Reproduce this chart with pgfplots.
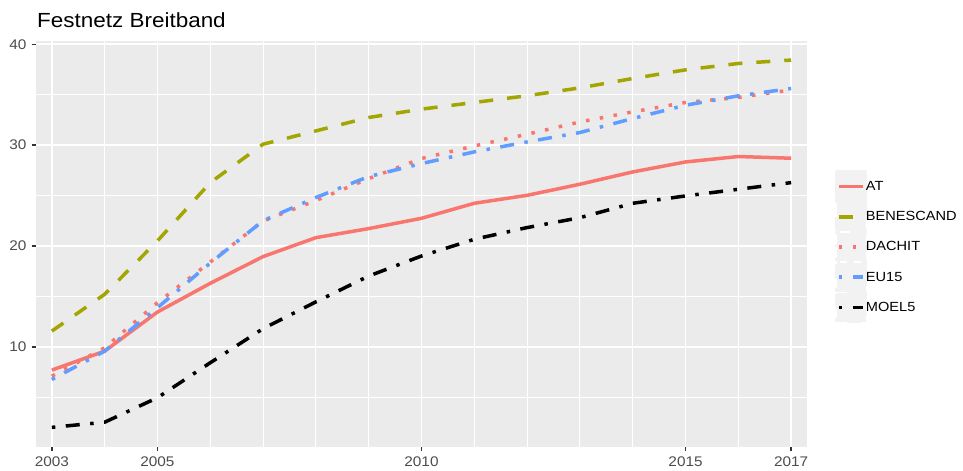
\documentclass[border=0pt]{standalone}
\usepackage{fontspec}
\setmainfont{Liberation Sans}[FakeStretch=1.1]
\usepackage{pgfplots}
\usepackage{pgfplotstable}
\pgfplotsset{compat=1.18}
\definecolor{panel}{HTML}{EBEBEB}
\definecolor{keybg}{HTML}{F2F2F2}
\definecolor{tickc}{HTML}{333333}
\definecolor{labc}{HTML}{4D4D4D}
\definecolor{cAT}{HTML}{F8766D}
\definecolor{cBE}{HTML}{A3A500}
\definecolor{cEU}{HTML}{619CFF}
\pgfplotstableread{
Year AT BENESCAND DACHIT EU15 MOEL5
2003 7.68 11.55 7.08 6.75 2.00
2004 9.56 15.20 9.90 9.56 2.51
2005 13.44 20.50 14.37 13.87 4.94
2006 16.29 26.28 18.40 18.30 8.41
2007 18.94 30.09 22.47 22.50 11.79
2008 20.82 31.41 24.50 24.80 14.45
2009 21.72 32.74 26.68 26.88 17.01
2010 22.74 33.57 28.67 28.17 19.00
2011 24.23 34.23 29.92 29.33 20.66
2012 25.02 34.90 31.08 30.32 21.82
2013 26.12 35.68 32.30 31.25 22.80
2014 27.34 36.61 33.30 32.64 24.23
2015 28.33 37.47 34.23 33.96 24.96
2016 28.87 38.10 34.73 34.89 25.62
2017 28.70 38.44 35.48 35.62 26.28
}\datatable
\begin{document}
\begin{tikzpicture}
\useasboundingbox (-36bp,-24.3bp) rectangle (927bp,446.7bp);
\begin{axis}[
  scale only axis,
  width=771bp, height=406bp,
  xmin=2002.7, xmax=2017.3,
  ymin=0.08, ymax=40.36,
  axis background/.style={fill=panel},
  axis x line*=bottom, axis y line*=left,
  axis line style={draw=none},
  xtick={2003,2005,2010,2015,2017},
  xticklabels={2003,2005,2010,2015,2017},
  minor xtick={2004,2006,2007,2008,2009,2011,2012,2013,2014,2016},
  ytick={10,20,30,40},
  yticklabels={10,20,30,40},
  minor ytick={5,15,25,35},
  grid=both,
  major grid style={white, line width=1.7bp},
  minor grid style={white, line width=0.9bp},
  tick align=outside,
  major tick length=4.4bp,
  minor tick length=0pt,
  tick style={color=tickc, line width=1.6bp},
  xticklabel style={font=\fontsize{14}{16}\selectfont, text=labc, inner sep=0pt, anchor=north, yshift=-5.9bp},
  yticklabel style={font=\fontsize{14}{16}\selectfont, text=labc, inner sep=0pt, anchor=east, xshift=-4.9bp},
  legend cell align=left,
  legend style={at={(1.0365,0.6803)}, anchor=north west, draw=none, fill=none,
    inner sep=0pt, outer sep=0pt, row sep=-2bp, column sep=-1.4bp,
    font=\fontsize{13.3}{16}\selectfont, nodes={inner sep=0pt}},
  legend image code/.code={
    \fill[keybg] (0bp,-14.35bp) rectangle (28.7bp,14.35bp);
    \draw[#1] (2bp,0bp) -- (26.5bp,0bp);
  },
  every axis plot/.append style={line width=3.5bp, line cap=butt, line join=round},
]
\addplot[cAT, solid] table[x=Year, y=AT] {\datatable};
\addlegendentry{AT}
\addplot[cBE, dash pattern=on 14bp off 14bp] table[x=Year, y=BENESCAND] {\datatable};
\addlegendentry{BENESCAND}
\addplot[cAT, dash pattern=on 3.5bp off 10.5bp] table[x=Year, y=DACHIT] {\datatable};
\addlegendentry{DACHIT}
\addplot[cEU, dash pattern=on 3.5bp off 10.5bp on 14bp off 10.5bp] table[x=Year, y=EU15] {\datatable};
\addlegendentry{EU15}
\addplot[black, dash pattern=on 3.5bp off 10.5bp on 14bp off 10.5bp] table[x=Year, y=MOEL5] {\datatable};
\addlegendentry{MOEL5}
\end{axis}
\node[anchor=base west, inner sep=0pt, font=\fontsize{20.5}{25}\selectfont] at (1bp,419.4bp) {Festnetz Breitband};
\end{tikzpicture}
\end{document}
